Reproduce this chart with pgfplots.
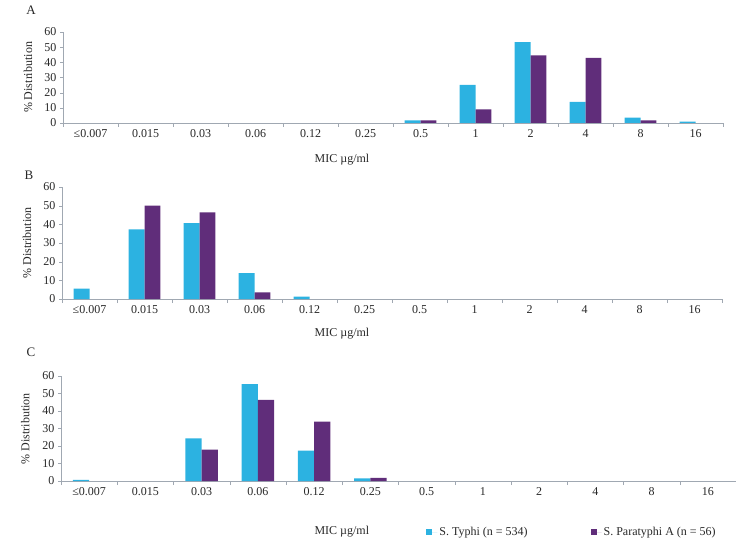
\documentclass[border=0pt]{standalone}
\usepackage{fontspec}
\setmainfont{Liberation Serif}
\usepackage{pgfplots}
\pgfplotsset{compat=1.18}
\definecolor{typhi}{RGB}{44,178,225}
\definecolor{para}{RGB}{96,45,122}
\definecolor{axisgray}{RGB}{160,168,178}
\definecolor{txt}{RGB}{40,40,40}

\pgfplotsset{
  mic/.style={
    scale only axis,
    xmin=-0.5, xmax=11.5, ymin=0, ymax=60,
    axis x line=bottom, axis y line=left,
    axis line style={axisgray,-},
    ytick={0,10,...,60},
    xtick={0,...,11},
    xticklabels={≤0.007,0.015,0.03,0.06,0.12,0.25,0.5,1,2,4,8,16},
    major x tick style={draw=none},
    minor xtick={-0.5,0.5,...,11.5},
    tick style={axisgray},
    tick align=outside,
    major tick length=3pt, minor tick length=4pt,
    ticklabel style={font=\fontsize{12}{13}\selectfont, text=txt},
    /pgf/number format/assume math mode=true,
    ylabel={\% Distribution},
    ylabel style={font=\fontsize{12}{13}\selectfont, text=txt, at={(axis description cs:-0.053,0.5)}, anchor=center, rotate=0},
    xlabel={MIC µg/ml},
    xlabel style={font=\fontsize{12}{13}\selectfont, text=txt, anchor=center},
    ybar, bar width=0.29,
    legend image code/.code={\fill[##1] (0pt,-3pt) rectangle (6pt,3pt); \path (0pt,0pt) -- (11pt,0pt);},
  },
  ty/.style={fill=typhi, draw=none, bar shift=-0.145},
  pa/.style={fill=para, draw=none, bar shift=0.145},
}

\begin{document}
\begin{tikzpicture}
\path[use as bounding box] (0pt,0pt) rectangle (736pt,539pt);

% Panel A
\begin{axis}[mic, at={(63pt,416pt)}, anchor=south west, width=660pt, height=91pt,
  xlabel style={at={(axis description cs:0.4227,-0.40)}}]
\addplot[ty] coordinates {(6,1.7) (7,25.1) (8,53.4) (9,13.9) (10,3.6) (11,0.9)};
\addplot[pa] coordinates {(6,1.8) (7,8.9) (8,44.6) (9,42.9) (10,1.8)};
\end{axis}

% Panel B
\begin{axis}[mic, at={(62pt,240pt)}, anchor=south west, width=660pt, height=112pt,
  xlabel style={at={(axis description cs:0.4242,-0.3125)}}]
\addplot[ty] coordinates {(0,5.6) (1,37.3) (2,40.6) (3,13.9) (4,1.3)};
\addplot[pa] coordinates {(1,50.0) (2,46.4) (3,3.6)};
\end{axis}

% Panel C
\begin{axis}[mic, at={(61pt,58pt)}, anchor=south west, width=675pt, height=105pt,
  xlabel style={at={(axis description cs:0.416,-0.486)}},
  legend columns=2,
  legend style={draw=none, fill=none, inner sep=0pt, at={(axis description cs:0.541,-0.486)}, anchor=west,
    font=\fontsize{12}{13}\selectfont, text=txt,
    /tikz/every even column/.append style={column sep=61pt}},
  ]
\addplot[ty] coordinates {(0,0.6) (2,24.3) (3,55.4) (4,17.4) (5,1.5)};
\addplot[pa] coordinates {(2,17.9) (3,46.4) (4,33.9) (5,1.8)};
\legend{S. Typhi (n = 534), S. Paratyphi A (n = 56)}
\end{axis}

\node[font=\fontsize{13}{14}\selectfont, text=txt] at (31pt,529pt) {A};
\node[font=\fontsize{13}{14}\selectfont, text=txt] at (29pt,364pt) {B};
\node[font=\fontsize{13}{14}\selectfont, text=txt] at (31pt,187pt) {C};
\end{tikzpicture}
\end{document}
